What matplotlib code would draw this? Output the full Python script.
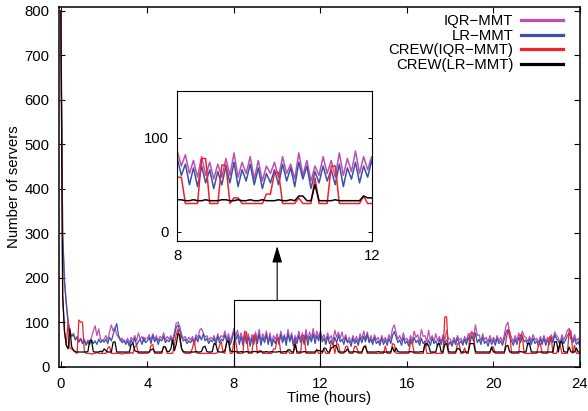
import numpy as np
import matplotlib
matplotlib.use("Agg")
import matplotlib.pyplot as plt

plt.rcParams['font.family'] = ['Liberation Sans', 'DejaVu Sans']
plt.rcParams['font.size'] = 10.7

# numero de servidores, una muestra cada 5 minutos (una fila = una hora)
iqr_mmt = [
    800, 300, 195, 145, 105, 80, 70, 75, 62, 68, 58, 64,
    55, 62, 52, 60, 56, 66, 80, 92, 70, 85, 62, 58,
    62, 70, 60, 78, 94, 80, 88, 72, 66, 58, 64, 56,
    56, 64, 52, 66, 60, 70, 58, 76, 62, 68, 56, 64,
    64, 72, 60, 74, 62, 70, 58, 68, 64, 76, 60, 68,
    62, 70, 60, 78, 98, 100, 90, 72, 64, 68, 58, 66,
    60, 68, 58, 72, 64, 82, 86, 76, 66, 70, 60, 66,
    62, 70, 56, 74, 62, 70, 66, 80, 62, 74, 58, 70,
    86, 70, 82, 62, 76, 58, 80, 60, 74, 56, 72, 58,
    78, 60, 84, 58, 74, 62, 80, 56, 76, 54, 70, 62,
    74, 58, 80, 62, 72, 56, 84, 60, 76, 54, 70, 60,
    80, 62, 76, 58, 84, 60, 78, 64, 86, 62, 80, 66,
    80, 64, 72, 58, 76, 62, 70, 58, 82, 66, 78, 64,
    78, 60, 72, 56, 66, 54, 70, 58, 68, 56, 74, 62,
    80, 62, 78, 58, 70, 56, 72, 60, 66, 54, 70, 58,
    66, 56, 72, 62, 86, 94, 76, 62, 70, 58, 76, 60,
    64, 54, 70, 58, 80, 66, 72, 56, 84, 68, 70, 56,
    82, 60, 70, 56, 74, 58, 68, 54, 72, 60, 82, 62,
    62, 52, 66, 56, 70, 60, 64, 54, 68, 58, 74, 64,
    80, 66, 94, 70, 72, 58, 74, 60, 66, 56, 70, 58,
    66, 56, 70, 58, 66, 56, 72, 92, 100, 76, 66, 56,
    70, 58, 76, 62, 80, 68, 66, 56, 68, 58, 72, 60,
    64, 54, 68, 56, 70, 56, 66, 58, 72, 62, 78, 70,
    64, 54, 72, 60, 70, 82, 86, 70, 60, 72, 58, 64,
    50]

lr_mmt = [
    800, 300, 190, 140, 100, 75, 68, 72, 60, 66, 55, 62,
    52, 58, 48, 56, 50, 60, 52, 58, 50, 62, 54, 60,
    55, 62, 52, 66, 58, 72, 85, 97, 70, 62, 54, 60,
    50, 58, 46, 60, 52, 64, 48, 56, 62, 50, 66, 54,
    58, 66, 52, 70, 56, 64, 50, 62, 58, 68, 54, 60,
    56, 64, 52, 70, 88, 94, 80, 66, 58, 62, 52, 58,
    54, 62, 50, 66, 56, 70, 60, 74, 58, 64, 52, 60,
    56, 64, 50, 68, 54, 62, 58, 72, 56, 66, 50, 62,
    78, 60, 72, 50, 68, 48, 70, 52, 66, 46, 64, 50,
    70, 52, 74, 48, 66, 54, 72, 50, 68, 46, 62, 52,
    66, 50, 72, 54, 68, 48, 74, 56, 70, 46, 64, 52,
    70, 54, 66, 50, 72, 48, 68, 56, 74, 52, 70, 58,
    76, 56, 64, 50, 68, 52, 60, 48, 66, 54, 70, 56,
    62, 50, 66, 54, 58, 46, 64, 52, 60, 48, 66, 54,
    68, 56, 72, 54, 62, 50, 66, 52, 58, 48, 64, 50,
    60, 48, 64, 52, 70, 79, 66, 54, 60, 48, 66, 52,
    58, 46, 62, 50, 66, 54, 60, 48, 64, 52, 58, 46,
    60, 48, 64, 52, 58, 46, 62, 50, 66, 52, 60, 48,
    56, 46, 60, 50, 64, 52, 58, 48, 62, 50, 66, 54,
    70, 56, 76, 54, 62, 50, 66, 52, 58, 46, 62, 50,
    60, 48, 64, 52, 58, 48, 62, 78, 84, 66, 58, 48,
    62, 50, 66, 54, 70, 56, 60, 48, 62, 50, 64, 52,
    58, 46, 62, 50, 64, 48, 60, 50, 66, 54, 72, 62,
    58, 48, 64, 52, 60, 70, 76, 62, 54, 64, 50, 56,
    45]

crew_iqr = [
    800, 160, 80, 50, 100, 42, 40, 38, 32, 30, 105, 100,
    100, 35, 30, 30, 30, 28, 30, 30, 32, 30, 30, 30,
    30, 30, 42, 45, 30, 30, 30, 30, 30, 30, 28, 30,
    30, 30, 30, 32, 30, 45, 48, 30, 30, 30, 30, 30,
    30, 32, 48, 50, 30, 30, 30, 30, 30, 46, 44, 30,
    30, 30, 30, 50, 72, 85, 60, 40, 32, 30, 30, 30,
    30, 42, 58, 32, 30, 30, 30, 30, 30, 30, 30, 30,
    30, 30, 30, 32, 48, 56, 32, 30, 55, 58, 30, 30,
    58, 58, 30, 30, 30, 30, 78, 78, 30, 30, 30, 71,
    71, 30, 36, 36, 30, 30, 30, 30, 30, 30, 40, 40,
    63, 63, 30, 30, 30, 30, 36, 30, 30, 30, 57, 30,
    30, 30, 70, 70, 30, 30, 30, 30, 30, 30, 38, 30,
    30, 30, 38, 30, 30, 30, 57, 52, 30, 52, 50, 30,
    30, 30, 45, 46, 30, 30, 30, 46, 45, 30, 30, 30,
    45, 48, 30, 30, 30, 30, 30, 30, 30, 30, 30, 30,
    46, 30, 30, 30, 52, 50, 30, 30, 30, 30, 30, 30,
    30, 30, 56, 54, 30, 30, 30, 30, 30, 30, 55, 30,
    30, 30, 30, 32, 30, 30, 30, 30, 30, 112, 112, 30,
    30, 30, 30, 30, 52, 50, 30, 30, 42, 30, 30, 75,
    75, 75, 30, 30, 30, 30, 30, 30, 30, 30, 30, 45,
    44, 30, 30, 30, 30, 30, 30, 60, 82, 80, 30, 30,
    30, 30, 30, 72, 70, 30, 30, 30, 30, 30, 30, 30,
    30, 50, 52, 30, 30, 30, 30, 67, 66, 30, 30, 30,
    45, 48, 30, 30, 30, 30, 82, 80, 30, 48, 30, 30,
    30]

crew_lr = [
    800, 160, 80, 48, 40, 85, 45, 36, 34, 33, 33, 33,
    33, 33, 33, 34, 58, 60, 34, 33, 33, 33, 35, 33,
    40, 36, 33, 33, 33, 55, 56, 33, 33, 33, 33, 33,
    33, 33, 33, 50, 52, 36, 34, 33, 33, 33, 33, 33,
    33, 33, 38, 40, 33, 33, 33, 33, 33, 45, 44, 34,
    34, 40, 60, 36, 50, 75, 70, 40, 34, 33, 33, 33,
    33, 33, 33, 34, 33, 33, 34, 44, 46, 34, 33, 33,
    34, 52, 50, 34, 33, 33, 33, 36, 55, 58, 36, 34,
    34, 34, 33, 33, 34, 33, 33, 34, 33, 33, 33, 34,
    34, 33, 33, 34, 33, 33, 34, 33, 33, 34, 33, 33,
    33, 34, 33, 33, 34, 33, 38, 38, 33, 33, 50, 33,
    33, 33, 33, 34, 33, 33, 33, 33, 33, 33, 38, 36,
    36, 33, 42, 41, 33, 33, 42, 44, 48, 46, 33, 33,
    33, 33, 34, 40, 33, 33, 33, 34, 33, 33, 33, 33,
    44, 45, 33, 33, 33, 33, 33, 33, 34, 33, 33, 33,
    33, 33, 33, 33, 44, 33, 42, 34, 33, 33, 33, 33,
    33, 33, 34, 33, 33, 33, 33, 33, 34, 33, 50, 52,
    48, 33, 33, 33, 33, 50, 52, 33, 33, 50, 52, 34,
    33, 33, 33, 33, 41, 40, 33, 33, 33, 33, 33, 52,
    52, 52, 34, 33, 33, 33, 33, 33, 33, 33, 33, 44,
    33, 33, 33, 33, 33, 33, 33, 46, 48, 33, 33, 33,
    33, 33, 33, 34, 33, 33, 33, 52, 52, 33, 33, 33,
    33, 33, 33, 33, 33, 33, 33, 33, 33, 33, 56, 56,
    33, 56, 56, 34, 33, 33, 44, 33, 33, 33, 42, 33,
    33]

etiquetas = ["IQR\u2212MMT", "LR\u2212MMT", "CREW(IQR\u2212MMT)", "CREW(LR\u2212MMT)"]
colores = ['#bb4fb3', '#3b50a8', '#ee2228', '#000000']
series = [iqr_mmt, lr_mmt, crew_iqr, crew_lr]

horas = np.arange(len(iqr_mmt)) / 12.0

fig = plt.figure(figsize=(5.88, 4.11), dpi=100)

# grafico principal
ax = fig.add_axes([58.7 / 588, 44.3 / 411, 521.3 / 588, 360.0 / 411])
for s, c, l in zip(series, colores, etiquetas):
    ax.plot(horas, s, color=c, lw=0.9, label=l)
ax.set_xlim(-0.1, 24)
ax.set_ylim(0, 809)
ax.set_xticks(range(0, 25, 4))
ax.set_yticks(range(0, 801, 100))
ax.tick_params(direction='in', top=True, right=True, length=4.3, width=0.8)
ax.tick_params(axis='x', pad=7.5)
ax.tick_params(axis='y', pad=6.5)
for sp in ax.spines.values():
    sp.set_linewidth(1.1)
ax.set_xlabel('Time (hours)')
ax.set_ylabel('Number of servers')
ax.xaxis.set_label_coords(0.518, -0.068)
ax.yaxis.set_label_coords(-0.072, 0.5)

# leyenda
leg = ax.legend(loc='upper right', bbox_to_anchor=(563 / 588, 397 / 411),
                bbox_transform=fig.transFigure, frameon=False, markerfirst=False,
                handlelength=2.8, handletextpad=0.55, labelspacing=0.05,
                borderpad=0, borderaxespad=0)
for linea in leg.get_lines():
    linea.set_linewidth(2.3)

# zona ampliada y flecha
ax.add_patch(plt.Rectangle((8, 0), 4, 150, fill=False, lw=0.8, ec='black', zorder=5))
ax.annotate('', xy=(10, 271), xytext=(10, 150),
            arrowprops=dict(arrowstyle='-|>,head_length=1.0,head_width=0.3',
                            color='black', lw=0.8, mutation_scale=10,
                            shrinkA=0, shrinkB=0))

# grafico ampliado 8-12 h
axins = fig.add_axes([177.3 / 588, 170 / 411, 194.4 / 588, 150 / 411])
for s, c in zip(series, colores):
    axins.plot(horas, s, color=c, lw=1.1)
axins.set_xlim(8, 12)
axins.set_ylim(-10, 150)
axins.set_xticks([8, 12])
axins.set_yticks([0, 100])
axins.tick_params(direction='in', right=True, length=3, width=0.7)
axins.tick_params(axis='x', pad=6)
axins.tick_params(axis='y', pad=6.3)
for sp in axins.spines.values():
    sp.set_linewidth(0.8)

fig.savefig('out.png', dpi=100)
